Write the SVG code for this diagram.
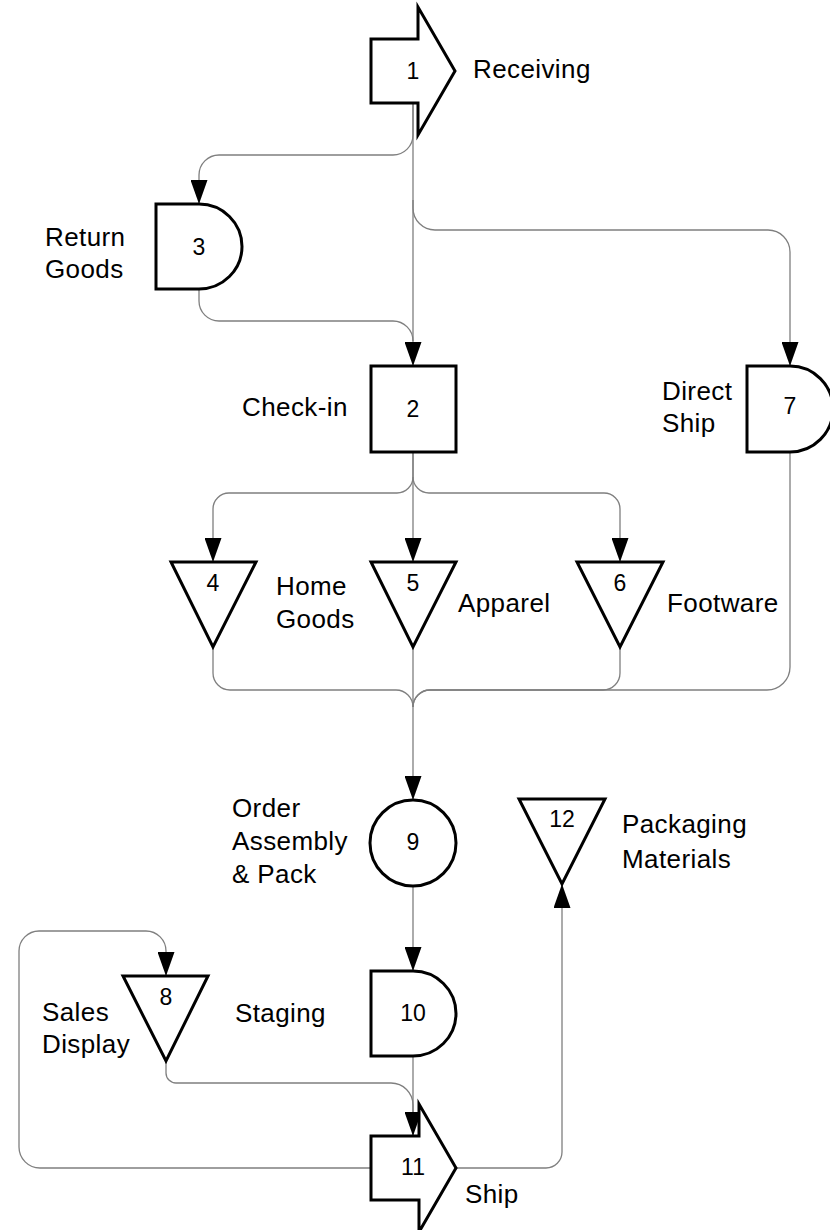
<svg xmlns="http://www.w3.org/2000/svg" width="830" height="1230" viewBox="0 0 830 1230">
  <style>
    .shape { fill: #ffffff; stroke: #000000; stroke-width: 3; stroke-linejoin: miter; }
    .conn { fill: none; stroke: #7f7f7f; stroke-width: 1.3; }
    .arrow { marker-end: url(#head); }
    .label { font-family: "Liberation Sans", Arial, sans-serif; font-size: 26px; letter-spacing: 0.4px; fill: #000000; }
    .num { font-family: "Liberation Sans", Arial, sans-serif; font-size: 23px; fill: #000000; text-anchor: middle; }
  </style>
  <defs>
    <marker id="head" markerUnits="userSpaceOnUse" markerWidth="24" markerHeight="17" viewBox="0 0 24 17" refX="24" refY="8.5" orient="auto">
      <path d="M0,0 L24,8.5 L0,17 Z" fill="#000000"/>
    </marker>
  </defs>
  <rect width="830" height="1230" fill="#ffffff"/>

  <!-- connectors -->
  <g id="connectors">
    <!-- 1 to 3 -->
    <path class="conn arrow" d="M413,103 V135 A20,20 0 0 1 393,155 H219 A20,20 0 0 0 199,175 V204"/>
    <!-- 1 to 2 -->
    <path class="conn arrow" d="M413,103 V366"/>
    <!-- 1 to 7 -->
    <path class="conn arrow" d="M413,200 V208 A22,22 0 0 0 435,230 H768 A22,22 0 0 1 790,252 V366"/>
    <!-- 3 to 2 -->
    <path class="conn" d="M199,289 V301 A20,20 0 0 0 219,321 H393 A20,20 0 0 1 413,341"/>
    <!-- 2 to 4, 5, 6 -->
    <path class="conn arrow" d="M413,452 V477 A16,16 0 0 1 397,493 H229 A16,16 0 0 0 213,509 V562"/>
    <path class="conn arrow" d="M413,452 V562"/>
    <path class="conn arrow" d="M413,477 A16,16 0 0 0 429,493 H604 A16,16 0 0 1 620,509 V562"/>
    <!-- 4, 5, 6, 7 to 9 -->
    <path class="conn" d="M213,647 V673 A17,17 0 0 0 230,690 H396 A17,17 0 0 1 413,707"/>
    <path class="conn arrow" d="M413,647 V800"/>
    <path class="conn" d="M620,647 V673 A17,17 0 0 1 603,690 H430 A17,17 0 0 0 413,707"/>
    <path class="conn" d="M790,452 V667 A23,23 0 0 1 767,690 H430 A17,17 0 0 0 413,707"/>
    <!-- 9 to 10 -->
    <path class="conn arrow" d="M413,886 V971"/>
    <!-- 10 to 11 -->
    <path class="conn" d="M413,1056 V1136"/>
    <!-- 8 to 11 -->
    <path class="conn arrow" d="M166,1061 V1073 A10,10 0 0 0 176,1083 H391 A22,22 0 0 1 413,1105 V1136"/>
    <!-- 11 to 8 -->
    <path class="conn arrow" d="M371,1168 H40 A21,21 0 0 1 19,1147 V951 A20,20 0 0 1 39,931 H146 A20,20 0 0 1 166,951 V976"/>
    <!-- 11 to 12 -->
    <path class="conn arrow" d="M456,1168 H546 A16,16 0 0 0 562,1152 V884"/>
  </g>

  <!-- 1 Receiving -->
  <g id="node1">
    <path class="shape" d="M371,39 H418 V7 L455,71 L418,135 V103 H371 Z"/>
    <text class="num" x="413" y="79">1</text>
    <text class="label" x="473" y="78">Receiving</text>
  </g>

  <!-- 3 Return Goods -->
  <g id="node3">
    <path class="shape" d="M156,204 H199 A43,42.5 0 0 1 199,289 H156 Z"/>
    <text class="num" x="199" y="255">3</text>
    <text class="label" x="45" y="246">Return</text>
    <text class="label" x="45" y="278">Goods</text>
  </g>

  <!-- 2 Check-in -->
  <g id="node2">
    <rect class="shape" x="371" y="366" width="85" height="86"/>
    <text class="num" x="413" y="417">2</text>
    <text class="label" x="242" y="416">Check-in</text>
  </g>

  <!-- 7 Direct Ship -->
  <g id="node7">
    <path class="shape" d="M747,366 H790 A43,43 0 0 1 790,452 H747 Z"/>
    <text class="num" x="790" y="414">7</text>
    <text class="label" x="662" y="400">Direct</text>
    <text class="label" x="662" y="432">Ship</text>
  </g>

  <!-- 4 Home Goods -->
  <g id="node4">
    <path class="shape" d="M171,562 H256 L213,647 Z"/>
    <text class="num" x="213" y="591">4</text>
    <text class="label" x="276" y="595">Home</text>
    <text class="label" x="276" y="628">Goods</text>
  </g>

  <!-- 5 Apparel -->
  <g id="node5">
    <path class="shape" d="M371,562 H456 L413,647 Z"/>
    <text class="num" x="413" y="591">5</text>
    <text class="label" x="458" y="612">Apparel</text>
  </g>

  <!-- 6 Footware -->
  <g id="node6">
    <path class="shape" d="M577,562 H663 L620,647 Z"/>
    <text class="num" x="620" y="591">6</text>
    <text class="label" x="667" y="612">Footware</text>
  </g>

  <!-- 9 Order Assembly & Pack -->
  <g id="node9">
    <circle class="shape" cx="413" cy="843" r="43"/>
    <text class="num" x="413" y="850">9</text>
    <text class="label" x="232" y="817">Order</text>
    <text class="label" x="232" y="850">Assembly</text>
    <text class="label" x="232" y="883">&amp; Pack</text>
  </g>

  <!-- 12 Packaging Materials -->
  <g id="node12">
    <path class="shape" d="M519,799 H605 L562,884 Z"/>
    <text class="num" x="562" y="827">12</text>
    <text class="label" x="622" y="833">Packaging</text>
    <text class="label" x="622" y="868">Materials</text>
  </g>

  <!-- 8 Sales Display -->
  <g id="node8">
    <path class="shape" d="M123,976 H208 L166,1061 Z"/>
    <text class="num" x="166" y="1005">8</text>
    <text class="label" x="42" y="1021">Sales</text>
    <text class="label" x="42" y="1053">Display</text>
  </g>

  <!-- 10 Staging -->
  <g id="node10">
    <path class="shape" d="M371,971 H413 A43,42.5 0 0 1 413,1056 H371 Z"/>
    <text class="num" x="413" y="1021">10</text>
    <text class="label" x="235" y="1022">Staging</text>
  </g>

  <!-- 11 Ship -->
  <g id="node11">
    <path class="shape" d="M371,1136 H419 V1104 L456,1168 L419,1232 V1200 H371 Z"/>
    <text class="num" x="413" y="1175">11</text>
    <text class="label" x="465" y="1203">Ship</text>
  </g>
</svg>
